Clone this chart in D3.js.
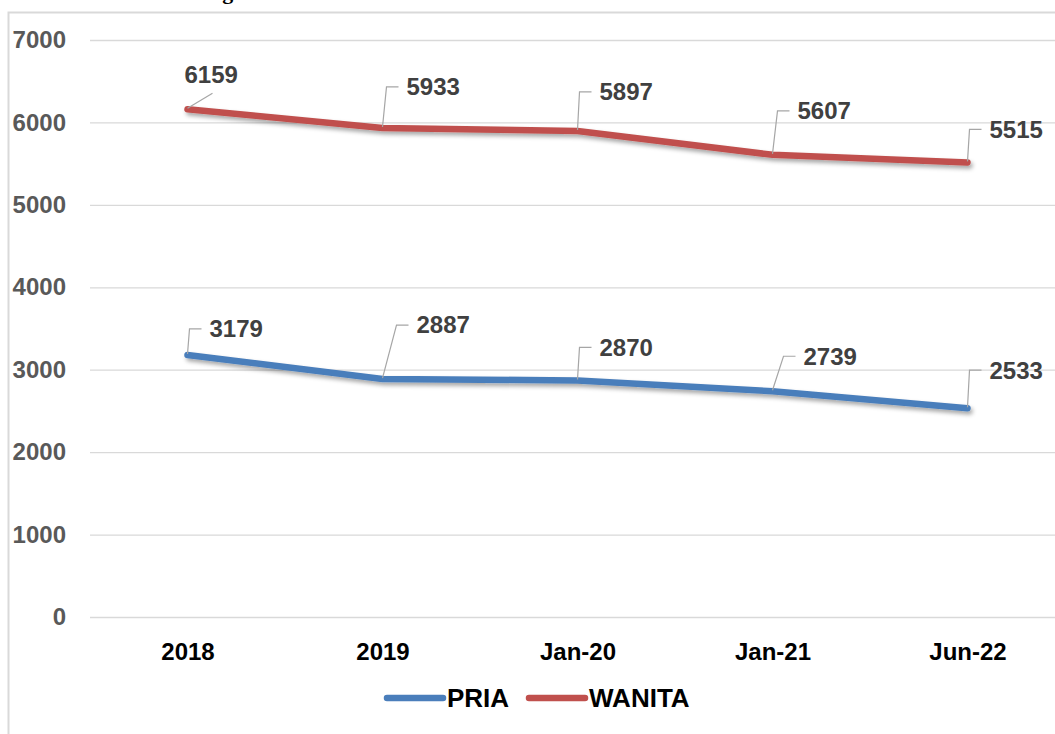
<!DOCTYPE html>
<html>
<head>
<meta charset="utf-8">
<script src="https://cdn.jsdelivr.net/npm/d3@7"></script>
<style>
  body { margin: 0; background: #fff; }
  svg { display: block; }
  .tick line { stroke: #d9d9d9; stroke-width: 1.3; }
  .yax text { fill: #595959; font: bold 24px "Liberation Sans", Arial, sans-serif; }
  .xax text { fill: #000; font: bold 24px "Liberation Sans", Arial, sans-serif; }
  .lbl { fill: #404040; font: bold 24px "Liberation Sans", Arial, sans-serif; }
  .leg { fill: #000; font: bold 26px "Liberation Sans", Arial, sans-serif; }
</style>
</head>
<body>
<svg id="chart" width="1055" height="734"></svg>
<script>
// data
var categories = ["2018", "2019", "Jan-20", "Jan-21", "Jun-22"]
var pria   = [3179, 2887, 2870, 2739, 2533]
var wanita = [6159, 5933, 5897, 5607, 5515]
var yTicks = [0, 1000, 2000, 3000, 4000, 5000, 6000, 7000]

// label nudges (px) -- excel labels were dragged by hand
var priaLblDx   = [22, 34, 22, 31, 22]
var priaLblDy   = [-26, -54, -33, -35, -38]
var wanitaLblDx = [-3, 24, 22, 25, 22]
var wanitaLblDy = [-35, -41, -39, -44, -33]

var W = 1055, H = 734
var svg = d3.select("#chart")

var defs = svg.append("defs")
defs.append("filter").attr("id", "shd")
  .attr("x", "-5%").attr("y", "-50%").attr("width", "110%").attr("height", "200%")
  .append("feDropShadow")
  .attr("dx", 2).attr("dy", 3).attr("stdDeviation", 2)
  .attr("flood-color", "#000").attr("flood-opacity", 0.35)

// clipped caption peeking in at the top
svg.append("text")
  .attr("x", 500).attr("y", -1)
  .attr("text-anchor", "middle")
  .style("font", "bold 22px 'Liberation Serif', 'Times New Roman', serif")
  .attr("fill", "#000")
  .text("Diagram 1. Jumlah Penduduk Pria dan Wanita Tahun 2018 - 2022")

// chart frame (only top and left visible)
svg.append("path")
  .attr("d", "M8.5," + H + " L8.5,12.5 L" + W + ",12.5")
  .attr("fill", "none").attr("stroke", "#d9d9d9").attr("stroke-width", 2)

var x = d3.scalePoint().domain(categories).range([90, 1065]).padding(0.5)
var y = d3.scaleLinear().domain([0, 7000]).range([617, 40])

svg.append("g")
  .attr("class", "yax")
  .attr("transform", "translate(90,0)")
  .call(d3.axisLeft(y).tickValues(yTicks).tickFormat(d3.format("d"))
    .tickSize(-(W - 90)).tickPadding(24))
  .call(g => g.select(".domain").remove())

svg.append("g")
  .attr("class", "xax")
  .attr("transform", "translate(0,617)")
  .call(d3.axisBottom(x).tickSize(0).tickPadding(26))
  .call(g => g.select(".domain").remove())

var series = [
  { name: "PRIA", vals: pria, color: "#4a7ebb", dx: priaLblDx, dy: priaLblDy },
  { name: "WANITA", vals: wanita, color: "#c0504d", dx: wanitaLblDx, dy: wanitaLblDy }
]

var line = d3.line()
  .x((d, i) => x(categories[i]))
  .y(d => y(d))

series.forEach(s => {
  svg.append("path")
    .datum(s.vals)
    .attr("d", line)
    .attr("fill", "none")
    .attr("stroke", s.color)
    .attr("stroke-width", 6.5)
    .attr("stroke-linecap", "round")
    .attr("stroke-linejoin", "round")
    .attr("filter", "url(#shd)")
})

// data labels with leader lines
series.forEach(s => {
  var g = svg.append("g")
  s.vals.forEach((v, i) => {
    var px = x(categories[i]), py = y(v)
    var tx = px + s.dx[i], ty = py + s.dy[i]
    var d
    if (s.dx[i] < 10) {
      d = "M" + px + "," + (py - 1) + " L" + (tx + 28) + "," + (ty + 19)
    } else {
      d = "M" + px + "," + (py - 1) + " L" + (tx - 20) + "," + ty + " L" + (tx - 8) + "," + ty
    }
    g.append("path")
      .attr("d", d)
      .attr("fill", "none")
      .attr("stroke", "#a6a6a6")
      .attr("stroke-width", 1.2)
    g.append("text")
      .attr("class", "lbl")
      .attr("x", tx).attr("y", ty)
      .attr("dy", "0.35em")
      .text(v)
  })
})

// legend
var legX = [387, 529]
var leg = svg.append("g")
series.forEach((s, i) => {
  leg.append("line")
    .attr("x1", legX[i]).attr("x2", legX[i] + 56)
    .attr("y1", 698).attr("y2", 698)
    .attr("stroke", s.color).attr("stroke-width", 6.5)
    .attr("stroke-linecap", "round")
  leg.append("text")
    .attr("class", "leg")
    .attr("x", legX[i] + 60).attr("y", 698)
    .attr("dy", "0.36em")
    .text(s.name)
})
</script>
</body>
</html>
